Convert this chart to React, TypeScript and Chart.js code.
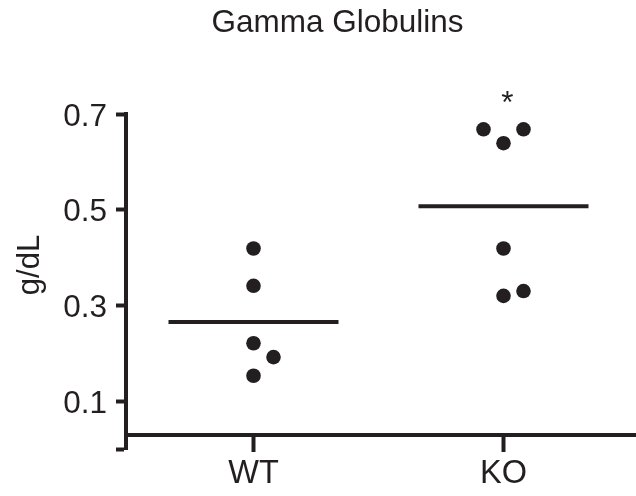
import React, { useEffect, useRef } from "react";
import { Chart, registerables } from "chart.js";

Chart.register(...registerables);

const chartTitle = "Gamma Globulins";
const yAxisTitle = "g/dL";
const categories = ["WT", "KO"];
const wtValues = [0.419, 0.341, 0.221, 0.192, 0.153];
const wtJitter = [0, 0, 0, 0.08, 0];
const koValues = [0.668, 0.668, 0.639, 0.419, 0.33, 0.32];
const koJitter = [-0.08, 0.08, 0, 0, 0.08, 0];
const significance = ["", "*"];
const yTickValues = [0, 0.1, 0.3, 0.5, 0.7];
const yTickLabels = ["", "0.1", "0.3", "0.5", "0.7"];

const INK = "#231f20";
const FONT = "'Liberation Sans', Arial, sans-serif";
const MEAN_HALF = 0.34;

const mean = (a: number[]) => a.reduce((s, v) => s + v, 0) / a.length;

const groups = [
  { values: wtValues, jitter: wtJitter },
  { values: koValues, jitter: koJitter },
];

// stretch the x axis to the right edge of the canvas (as in the reference)
const stretchPlugin = {
  id: "stretchX",
  afterLayout(chart: any) {
    const xs = chart.scales.x;
    xs.right = chart.width;
    xs.width = xs.right - xs.left;
    xs.configure();
    chart.chartArea.right = chart.width;
    chart.chartArea.width = chart.chartArea.right - chart.chartArea.left;
  },
};

const overlayPlugin = {
  id: "overlayText",
  afterDraw(chart: any) {
    const ctx = chart.ctx;
    const xs = chart.scales.x;
    const ys = chart.scales.y;
    ctx.save();
    ctx.fillStyle = INK;
    // main title
    ctx.font = `31.5px ${FONT}`;
    ctx.textAlign = "center";
    ctx.textBaseline = "alphabetic";
    ctx.fillText(chartTitle, 337.5, 32);
    // significance markers
    groups.forEach((g, i) => {
      if (!significance[i]) return;
      const px = xs.getPixelForValue(i + 1) + 4;
      const py = ys.getPixelForValue(Math.max(...g.values)) - 16;
      ctx.fillText(significance[i], px, py);
    });
    // y axis title
    ctx.translate(39, 265);
    ctx.rotate(-Math.PI / 2);
    ctx.font = `31px ${FONT}`;
    ctx.textAlign = "center";
    ctx.textBaseline = "alphabetic";
    ctx.fillText(yAxisTitle, 0, 0);
    ctx.restore();
  },
};

export default function App() {
  const canvasRef = useRef<HTMLCanvasElement | null>(null);

  useEffect(() => {
    if (!canvasRef.current) return;
    const pointSets = groups.map((g, gi) => ({
      type: "scatter" as const,
      data: g.values.map((v, i) => ({ x: gi + 1 + g.jitter[i], y: v })),
      backgroundColor: INK,
      borderWidth: 0,
      pointRadius: 7.3,
      pointHoverRadius: 7.3,
    }));
    const meanSets = groups.map((g, gi) => {
      const m = mean(g.values);
      return {
        type: "line" as const,
        data: [
          { x: gi + 1 - MEAN_HALF, y: m },
          { x: gi + 1 + MEAN_HALF, y: m },
        ],
        borderColor: INK,
        borderWidth: 4,
        pointRadius: 0,
        fill: false,
      };
    });

    const chart = new Chart(canvasRef.current, {
      type: "scatter",
      data: { datasets: [...meanSets, ...pointSets] as any },
      plugins: [stretchPlugin, overlayPlugin],
      options: {
        animation: false,
        responsive: false,
        layout: { padding: { top: 114, bottom: 47, left: 0, right: 0 } },
        plugins: {
          legend: { display: false },
          tooltip: { enabled: false },
          title: { display: false },
        },
        elements: { point: { hitRadius: 0 } },
        scales: {
          x: {
            type: "linear",
            min: 0.49,
            max: 2.53,
            position: { y: 0.03 } as any,
            afterBuildTicks: (s: any) => {
              s.ticks = categories.map((_, i) => ({ value: i + 1 }));
            },
            afterFit: (s: any) => {
              s.paddingLeft = 0;
              s.paddingRight = 0;
            },
            ticks: {
              color: INK,
              font: { family: FONT, size: 32.5 },
              padding: 5,
              callback: (v: any) => categories[Number(v) - 1] ?? "",
              maxRotation: 0,
              autoSkip: false,
            },
            grid: {
              display: true,
              drawOnChartArea: false,
              drawTicks: true,
              tickLength: 15,
              tickWidth: 4,
              tickColor: INK,
            },
            border: { display: true, color: INK, width: 4 },
          },
          y: {
            type: "linear",
            min: 0,
            max: 0.7,
            afterFit: (s: any) => {
              s.width = 126;
            },
            afterBuildTicks: (s: any) => {
              s.ticks = yTickValues.map((v) => ({ value: v }));
            },
            ticks: {
              color: INK,
              font: { family: FONT, size: 31.5 },
              padding: 9,
              labelOffset: 3,
              callback: (v: any) => {
                const idx = yTickValues.findIndex((t) => Math.abs(t - Number(v)) < 1e-9);
                return idx >= 0 ? yTickLabels[idx] : "";
              },
            },
            grid: {
              display: true,
              drawOnChartArea: false,
              drawTicks: true,
              tickLength: 10,
              tickWidth: 4,
              tickColor: INK,
            },
            border: { display: true, color: INK, width: 4 },
          },
        },
      },
    });
    return () => chart.destroy();
  }, []);

  return (
    <div style={{ position: "fixed", left: 0, top: 0, width: 636, height: 496, background: "#fff" }}>
      <canvas ref={canvasRef} width={636} height={496} />
    </div>
  );
}
